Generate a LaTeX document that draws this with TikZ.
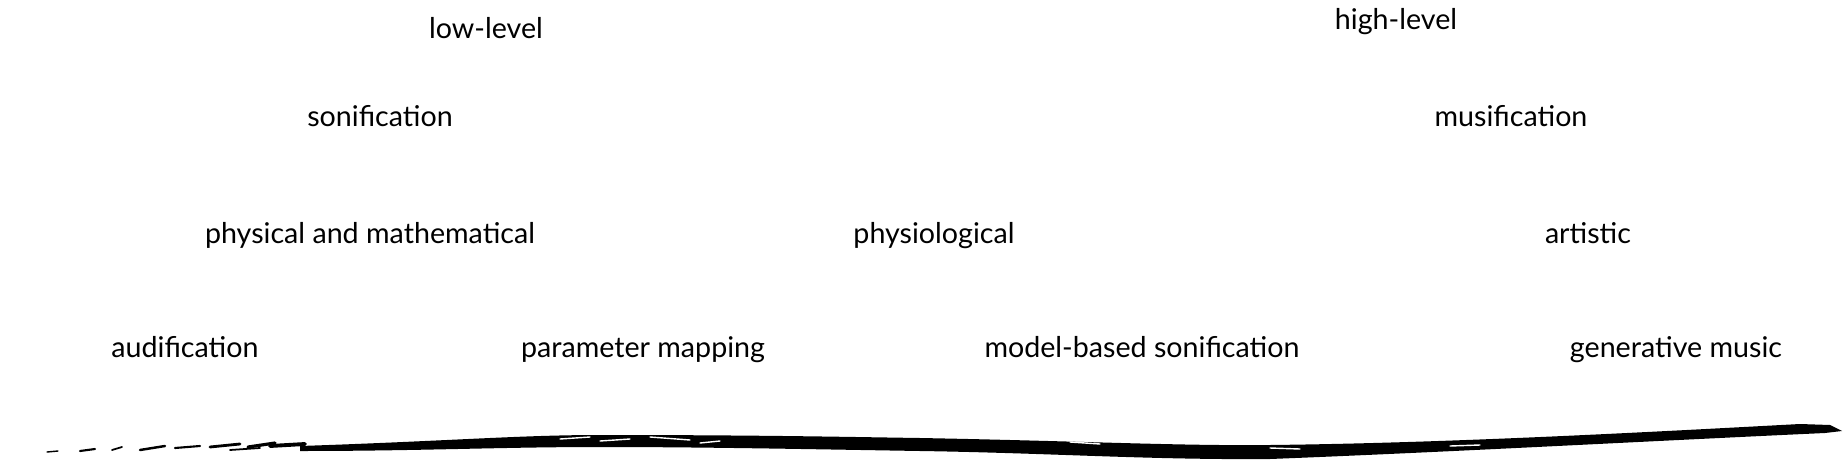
\documentclass[tikz,border=0pt]{standalone}
\usepackage{fontspec}
\setmainfont{Lato}
\begin{document}
\begin{tikzpicture}[x=0.02cm, y=-0.02cm,
  every node/.style={anchor=base, inner sep=0pt, font=\fontsize{16.3}{20}\selectfont},
  pennello/.style={fill=black, draw=none},
  graffio/.style={line width=0.8pt, line cap=round, white}]
  \useasboundingbox (0,0) rectangle (1843,460);

  % Livello alto
  \node (lowlvl) at (486,38) {low-level};
  \node (highlvl) at (1396,29) {high-level};

  % Tipi
  \node (sonif) at (380,126) {sonification};
  \node (musif) at (1511,126) {musification};

  % Domini
  \node (physmath) at (370,243) {physical and mathematical};
  \node (physio) at (934,243) {physiological};
  \node (art) at (1588,243) {artistic};

  % Tecniche
  \node (audif) at (185,357) {audification};
  \node (parmap) at (643,357) {parameter mapping};
  \node (modbased) at (1142,357) {model-based sonification};
  \node (genmus) at (1676,357) {generative music};

  % Pennellata
  \fill[pennello] (300,446) .. controls (450,441) and (520,435) .. (600,435)
    .. controls (760,435) and (850,437) .. (920,438)
    .. controls (1080,441) and (1180,446) .. (1270,445)
    .. controls (1450,443) and (1650,432) .. (1800,424)
    -- (1830,425) -- (1842,431) -- (1825,433)
    .. controls (1650,441) and (1450,452) .. (1270,459)
    .. controls (1150,460) and (1050,453) .. (920,451)
    .. controls (800,449) and (700,447) .. (600,447)
    .. controls (500,447) and (420,451) .. (300,451) -- cycle;
  % Graffi bianchi
  \foreach \xa/\ya/\xb/\yb in {370/441/395/439, 410/440/430/438, 560/439/590/437,
    600/441/630/439, 650/437/690/440, 700/443/720/441, 1070/442/1100/444,
    1270/448/1300/449, 1450/446/1480/445}
    \draw[graffio] (\xa,\ya) -- (\xb,\yb);
  % Frammenti a sinistra
  \foreach \xa/\ya/\xb/\yb/\w in {47/452/58/451/0.8, 80/451/95/449/1.2, 112/450/122/447/1,
    140/450/165/446/1.4, 175/448/200/446/1.2, 210/447/240/444/1.6, 248/447/275/443/1.8,
    270/446/305/444/2.2, 230/450/260/448/1}
    \draw[line width=\w pt, line cap=round] (\xa,\ya) -- (\xb,\yb);
\end{tikzpicture}
\end{document}
